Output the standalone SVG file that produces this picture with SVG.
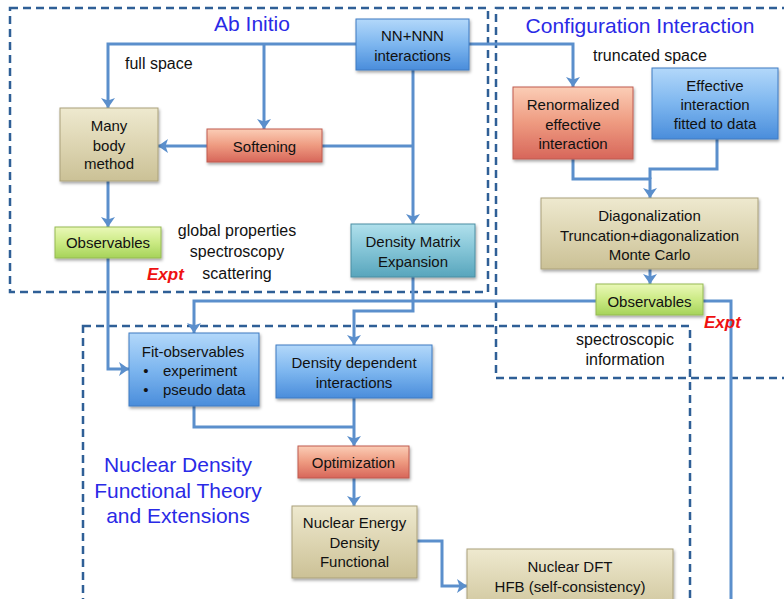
<svg xmlns="http://www.w3.org/2000/svg" width="784" height="599" viewBox="0 0 784 599">
<defs>
<linearGradient id="gBlue" x1="0" y1="0" x2="0" y2="1"><stop offset="0" stop-color="#b3d8fa"/><stop offset="0.5" stop-color="#7db6ef"/><stop offset="1" stop-color="#4a8ddb"/></linearGradient>
<linearGradient id="gTan" x1="0" y1="0" x2="0" y2="1"><stop offset="0" stop-color="#eee9cf"/><stop offset="0.5" stop-color="#ddd5b2"/><stop offset="1" stop-color="#cbc196"/></linearGradient>
<linearGradient id="gRed" x1="0" y1="0" x2="0" y2="1"><stop offset="0" stop-color="#fbcdb6"/><stop offset="0.5" stop-color="#ee9a80"/><stop offset="1" stop-color="#d7665a"/></linearGradient>
<linearGradient id="gGreen" x1="0" y1="0" x2="0" y2="1"><stop offset="0" stop-color="#eaf8b8"/><stop offset="0.5" stop-color="#cbea84"/><stop offset="1" stop-color="#a6d35a"/></linearGradient>
<linearGradient id="gTeal" x1="0" y1="0" x2="0" y2="1"><stop offset="0" stop-color="#b0e0ec"/><stop offset="0.5" stop-color="#83c4d6"/><stop offset="1" stop-color="#58a5bc"/></linearGradient>
<filter id="sh" x="-10%" y="-10%" width="130%" height="140%"><feDropShadow dx="1" dy="2" stdDeviation="1.5" flood-color="#000" flood-opacity="0.35"/></filter>
<marker id="ah" viewBox="0 0 10 14" refX="10" refY="7" markerWidth="10" markerHeight="14" markerUnits="userSpaceOnUse" orient="auto"><path d="M0,0 L10,7 L0,14 L2.5,7 z" fill="#5b8fcc"/></marker>
<style>
.zone{fill:none;stroke:#2f5f96;stroke-width:2.5;stroke-dasharray:8 5}
.title{font-family:"Liberation Sans",Arial,sans-serif;font-size:21px;fill:#2a2ae6;text-anchor:middle}
.c{fill:none;stroke:#5b8fcc;stroke-width:3}
.a{marker-end:url(#ah)}
.box{filter:url(#sh);stroke-width:1}
.blue{fill:url(#gBlue);stroke:#3f7bc2}
.tan{fill:url(#gTan);stroke:#aaa07a}
.red{fill:url(#gRed);stroke:#bf5b4e}
.green{fill:url(#gGreen);stroke:#95ba52}
.teal{fill:url(#gTeal);stroke:#4a8ea2}
.t{font-family:"Liberation Sans",Arial,sans-serif;font-size:15px;fill:#111;text-anchor:middle}
.s{text-anchor:start}
.n{font-family:"Liberation Sans",Arial,sans-serif;font-size:16px;fill:#111}
.m{text-anchor:middle}
.expt{font-family:"Liberation Sans",Arial,sans-serif;font-size:17px;font-weight:bold;font-style:italic;fill:#ee1111}
</style>
</defs>
<rect width="784" height="599" fill="#fff"/>
<g id="zones">
<rect class="zone" x="10" y="8" width="478" height="284"/>
<rect class="zone" x="496" y="8" width="300" height="370"/>
<rect class="zone" x="83" y="326" width="607" height="300"/>
<text class="title" x="252" y="31">Ab Initio</text>
<text class="title" x="640" y="33">Configuration Interaction</text>
<text class="title" x="178" y="472">Nuclear Density</text>
<text class="title" x="178" y="498">Functional Theory</text>
<text class="title" x="178" y="523">and Extensions</text>
</g>
<g id="connectors">
<path class="c a" d="M356,44 H108 V108"/>
<path class="c a" d="M264,44 V129"/>
<path class="c a" d="M413,70 V224"/>
<path class="c" d="M322,146 H413"/>
<path class="c a" d="M207,146 H158"/>
<path class="c a" d="M108,181 V227"/>
<path class="c a" d="M108,258 V369 H129"/>
<path class="c a" d="M469,44 H573 V87"/>
<path class="c a" d="M413,277 V311 H354 V345"/>
<path class="c a" d="M596,301 H194 V333"/>
<path class="c a" d="M573,159 V179 H650 V198"/>
<path class="c" d="M717,139 V169 H650 V179"/>
<path class="c a" d="M650,269 V284"/>
<path class="c" d="M703,301 H731 V605"/>
<path class="c" d="M194,406 V427 H354"/>
<path class="c a" d="M354,398 V446"/>
<path class="c a" d="M354,478 V506"/>
<path class="c a" d="M417,541 H442 V586 H467"/>
</g>
<g id="nn-nnn">
<rect class="box blue" x="356" y="19" width="113" height="51"/>
<text class="t" x="412.5" y="41">NN+NNN</text>
<text class="t" x="412.5" y="61">interactions</text>
</g>
<g id="many-body">
<rect class="box tan" x="60" y="108" width="98" height="73"/>
<text class="t" x="109" y="131">Many</text>
<text class="t" x="109" y="151">body</text>
<text class="t" x="109" y="169">method</text>
</g>
<g id="softening">
<rect class="box red" x="207" y="129" width="115" height="33"/>
<text class="t" x="264.5" y="152">Softening</text>
</g>
<g id="observables-ai">
<rect class="box green" x="55" y="227" width="106" height="31"/>
<text class="t" x="108" y="248">Observables</text>
</g>
<g id="dme">
<rect class="box teal" x="351" y="224" width="124" height="53"/>
<text class="t" x="413" y="247">Density Matrix</text>
<text class="t" x="413" y="267">Expansion</text>
</g>
<g id="ai-notes">
<text class="n" x="125" y="69">full space</text>
<text class="n m" x="237" y="236">global properties</text>
<text class="n m" x="237" y="257">spectroscopy</text>
<text class="n m" x="237" y="279">scattering</text>
<text class="expt" x="147" y="280">Expt</text>
</g>
<g id="renormalized">
<rect class="box red" x="513" y="87" width="120" height="72"/>
<text class="t" x="573" y="110">Renormalized</text>
<text class="t" x="573" y="130">effective</text>
<text class="t" x="573" y="149">interaction</text>
</g>
<g id="effective">
<rect class="box blue" x="652" y="68" width="126" height="71"/>
<text class="t" x="715" y="91">Effective</text>
<text class="t" x="715" y="110">interaction</text>
<text class="t" x="715" y="129">fitted to data</text>
</g>
<g id="diagonalization">
<rect class="box tan" x="541" y="198" width="217" height="71"/>
<text class="t" x="649.5" y="221">Diagonalization</text>
<text class="t" x="649.5" y="241">Truncation+diagonalization</text>
<text class="t" x="649.5" y="260">Monte Carlo</text>
</g>
<g id="observables-ci">
<rect class="box green" x="596" y="284" width="107" height="31"/>
<text class="t" x="649.5" y="307">Observables</text>
</g>
<g id="ci-notes">
<text class="n m" x="650" y="61">truncated space</text>
<text class="expt" x="704" y="328">Expt</text>
<text class="n m" x="625" y="345">spectroscopic</text>
<text class="n m" x="625" y="365">information</text>
</g>
<g id="fit-observables">
<rect class="box blue" x="129" y="333" width="130" height="73"/>
<text class="t" x="193" y="357">Fit-observables</text>
<text class="t" x="146" y="376">•</text>
<text class="t s" x="163" y="376">experiment</text>
<text class="t" x="146" y="395">•</text>
<text class="t s" x="163" y="395">pseudo data</text>
</g>
<g id="density-dependent">
<rect class="box blue" x="276" y="345" width="156" height="53"/>
<text class="t" x="354" y="368">Density dependent</text>
<text class="t" x="354" y="388">interactions</text>
</g>
<g id="optimization">
<rect class="box red" x="298" y="446" width="111" height="32"/>
<text class="t" x="353.5" y="468">Optimization</text>
</g>
<g id="nedf">
<rect class="box tan" x="292" y="506" width="125" height="72"/>
<text class="t" x="354.5" y="528">Nuclear Energy</text>
<text class="t" x="354.5" y="548">Density</text>
<text class="t" x="354.5" y="567">Functional</text>
</g>
<g id="nuclear-dft">
<rect class="box tan" x="467" y="549" width="206" height="70"/>
<text class="t" x="570" y="572">Nuclear DFT</text>
<text class="t" x="570" y="592">HFB (self-consistency)</text>
</g>
</svg>
